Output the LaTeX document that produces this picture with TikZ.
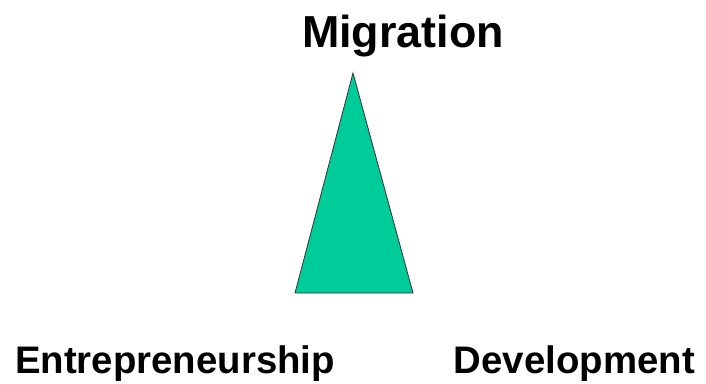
\documentclass[tikz,border=0pt]{standalone}
\usepackage{fontspec}
\setmainfont{Liberation Sans}
\usetikzlibrary{positioning}
\definecolor{peakgreen}{RGB}{0,204,153}
\tikzset{
    %Define standard label style
    word/.style={
      font=\bfseries,
      inner sep=0pt,
      text=black},
    topword/.style={
      word,
      font=\fontsize{45}{48}\selectfont\bfseries},
    baseword/.style={
      word,
      font=\fontsize{38.5}{42}\selectfont\bfseries},
    peak/.style={
      fill=peakgreen,
      draw=black!80, line width=0.8bp,
      line join=miter},
}

\begin{document}
\begin{tikzpicture}[x=1bp,y=-1bp]
    \useasboundingbox (0,0) rectangle (706,383);
    % the triangle
    \coordinate (apex) at (353,73);
    \coordinate (left) at (295,293);
    \coordinate (right) at (413,293);
    \draw [peak] (apex) -- (left) -- (right) -- cycle;
    % the three corners
    \node (migration) [topword] [anchor=base] at (403,47)
          {Migration};
    \node (entre) [baseword] [anchor=base west] at (15,373)
          {Entrepreneurship};
    \node (devel) [baseword] [anchor=base east] at (695,373)
          {Development};
  \end{tikzpicture}
\end{document}
